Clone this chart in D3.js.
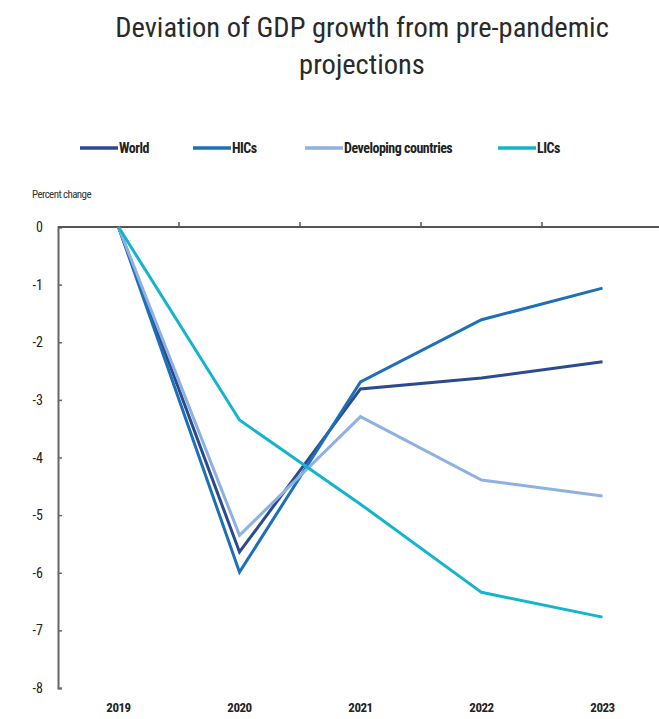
<!DOCTYPE html>
<html><head><meta charset="utf-8">
<script src="https://cdn.jsdelivr.net/npm/d3@7/dist/d3.min.js"></script>
<style>body{margin:0;background:#fff}</style>
</head><body>
<svg id="c" width="659" height="719"></svg>
<script>
const years = ["2019","2020","2021","2022","2023"];
const world = [0, -5.64, -2.81, -2.62, -2.34];
const hics = [0, -5.99, -2.69, -1.61, -1.06];
const developing = [0, -5.35, -3.29, -4.39, -4.67];
const lics = [0, -3.35, -4.81, -6.34, -6.77];
const seriesNames = ["World","HICs","Developing countries","LICs"];
const colors = ["#2c4a8e","#1d6fb8","#8eb1e2","#14b4cd"];
const yTicks = [0,-1,-2,-3,-4,-5,-6,-7,-8];

const series = [world, hics, developing, lics];
const font = "'Liberation Sans Narrow','Arial Narrow','Roboto Condensed',sans-serif";
const svg = d3.select("#c");
const x = d3.scaleBand().domain(years).range([58, 663]);
const y = d3.scaleLinear().domain([0,-8]).range([227, 688]);

// title
svg.append("text").attr("x",362).attr("y",37).attr("text-anchor","middle")
  .attr("font-family",font).attr("font-size",28.5).attr("fill","#2a2a2a")
  .text("Deviation of GDP growth from pre-pandemic");
svg.append("text").attr("x",362).attr("y",74).attr("text-anchor","middle")
  .attr("font-family",font).attr("font-size",28.5).attr("fill","#2a2a2a")
  .text("projections");

// legend
const legX = [80, 193, 305, 498];
seriesNames.forEach((n,i)=>{
  const g = svg.append("g").attr("transform",`translate(${legX[i]},148)`);
  g.append("line").attr("x1",0).attr("x2",38).attr("stroke",colors[i]).attr("stroke-width",3.5);
  g.append("text").attr("x",39).attr("y",5).attr("font-family",font).attr("font-size",14)
    .attr("font-weight","bold").attr("fill","#222").attr("letter-spacing","-0.5").text(n);
});

svg.append("text").attr("x",32).attr("y",198).attr("font-family",font).attr("font-size",11)
  .attr("fill","#333").attr("letter-spacing","-0.6").text("Percent change");

// y axis
const yAxis = d3.axisRight(y).tickValues(yTicks).tickSize(4).tickFormat("");
const ga = svg.append("g").attr("transform","translate(58,0)").call(yAxis);
ga.select(".domain").attr("stroke","#666").attr("stroke-width",2);
ga.selectAll(".tick line").attr("stroke","#666").attr("stroke-width",1.5);
svg.append("g").selectAll("text").data(yTicks).join("text")
  .attr("x",43).attr("y",d=>y(d)+5).attr("text-anchor","end")
  .attr("font-family",font).attr("font-size",14).attr("fill","#222")
  .text(d=>d);

// zero line with ticks at band boundaries
const bounds = years.slice(1).map(d=>x(d));
svg.append("line").attr("x1",58).attr("x2",659).attr("y1",y(0)).attr("y2",y(0))
  .attr("stroke","#555").attr("stroke-width",2);
svg.append("g").selectAll("line").data(bounds).join("line")
  .attr("x1",d=>d).attr("x2",d=>d).attr("y1",y(0)-5).attr("y2",y(0))
  .attr("stroke","#555").attr("stroke-width",1.5);

// x labels
svg.append("g").selectAll("text").data(years).join("text")
  .attr("x",d=>x(d)+x.bandwidth()/2).attr("y",712).attr("text-anchor","middle")
  .attr("font-family",font).attr("font-size",13).attr("font-weight","bold")
  .attr("fill","#222").attr("letter-spacing","-0.5").text(d=>d);

// lines
const line = d3.line().x((d,i)=>x(years[i])+x.bandwidth()/2).y(d=>y(d));
series.forEach((s,i)=>{
  svg.append("path").datum(s).attr("d",line).attr("fill","none")
    .attr("stroke",colors[i]).attr("stroke-width",3).attr("stroke-linejoin","miter");
});
</script>
</body></html>
